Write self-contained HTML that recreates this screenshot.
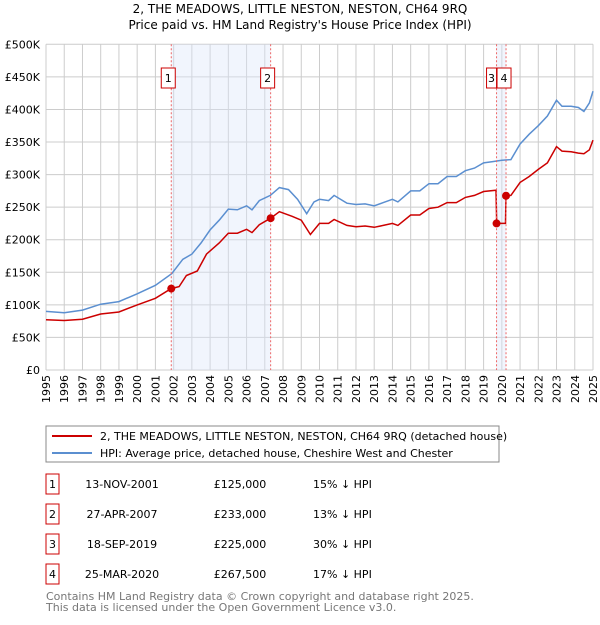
<!DOCTYPE html>
<html><head><meta charset="utf-8"><style>
body{margin:0;background:#fff;font-family:"Liberation Sans","DejaVu Sans",sans-serif;}
svg text{font-family:"DejaVu Sans","Liberation Sans",sans-serif;}
</style></head><body>
<svg width="600" height="620">
<text x="300" y="13" text-anchor="middle" font-size="12">2, THE MEADOWS, LITTLE NESTON, NESTON, CH64 9RQ</text>
<text x="300" y="29" text-anchor="middle" font-size="12">Price paid vs. HM Land Registry's House Price Index (HPI)</text>
<g id="grid"></g><g id="bands"></g><g id="lines"></g><g id="marks"></g><g id="axes"></g>
<rect x="46" y="426" width="453" height="36" fill="#fff" stroke="#888"/>
<line x1="52" y1="436" x2="92" y2="436" stroke="#cc0000" stroke-width="2"/>
<text x="100" y="440" font-size="11">2, THE MEADOWS, LITTLE NESTON, NESTON, CH64 9RQ (detached house)</text>
<line x1="52" y1="453" x2="92" y2="453" stroke="#5b8fd0" stroke-width="2"/>
<text x="100" y="457" font-size="11">HPI: Average price, detached house, Cheshire West and Chester</text>
<g id="table" font-size="11"></g>
<text x="46" y="600" font-size="11" fill="#777">Contains HM Land Registry data © Crown copyright and database right 2025.</text>
<text x="46" y="611" font-size="11" fill="#777">This data is licensed under the Open Government Licence v3.0.</text>
</svg>
<script>
const hpiYears=[1995,1996,1997,1998,1999,2000,2001,2001.9,2002.5,2003,2003.5,2004,2004.5,2005,2005.5,2006,2006.3,2006.7,2007.3,2007.8,2008.3,2008.8,2009.3,2009.7,2010,2010.5,2010.8,2011.5,2012,2012.5,2013,2013.5,2014,2014.3,2015,2015.5,2016,2016.5,2017,2017.5,2018,2018.5,2019,2019.5,2020,2020.5,2021,2021.5,2022,2022.5,2023,2023.3,2023.8,2024.2,2024.5,2024.8,2025];
const hpiValues=[90,88,92,101,105,117,130,148,170,178,195,215,230,247,246,252,246,260,268,280,277,262,240,258,262,260,268,256,254,255,252,257,262,258,275,275,286,286,297,297,306,310,318,320,322,323,347,362,375,390,414,405,405,403,397,410,428];
const propYears=[1995,1996,1997,1998,1999,2000,2001,2001.86,2002.3,2002.7,2003.3,2003.8,2004.5,2005,2005.5,2006,2006.3,2006.7,2007.32,2007.8,2008.5,2009,2009.5,2010,2010.5,2010.8,2011.5,2012,2012.5,2013,2013.5,2014,2014.3,2015,2015.5,2016,2016.5,2017,2017.5,2018,2018.5,2019,2019.68,2019.72,2020.2,2020.23,2020.5,2021,2021.5,2022,2022.5,2023,2023.3,2023.8,2024.2,2024.5,2024.8,2025];
const propValues=[77,76,78,86,89,100,110,125,128,145,152,178,195,210,210,216,211,223,233,243,236,230,208,225,225,231,222,220,221,219,222,225,222,238,238,248,250,257,257,265,268,274,276,225,225,267.5,268,288,297,308,318,343,336,335,333,332,338,353];
const saleYears=[2001.87,2007.32,2019.71,2020.23];
const saleValues=[125,233,225,267.5];
const saleLabels=["1","2","3","4"];
const saleDates=["13-NOV-2001","27-APR-2007","18-SEP-2019","25-MAR-2020"];
const salePrices=["£125,000","£233,000","£225,000","£267,500"];
const saleDiffs=["15% ↓ HPI","13% ↓ HPI","30% ↓ HPI","17% ↓ HPI"];
const yTicks=[0,50,100,150,200,250,300,350,400,450,500];
const xTicks=[1995,1996,1997,1998,1999,2000,2001,2002,2003,2004,2005,2006,2007,2008,2009,2010,2011,2012,2013,2014,2015,2016,2017,2018,2019,2020,2021,2022,2023,2024,2025];
const X0=46,X1=593,Y0=370,Y1=44.3;
const sx=y=>X0+(y-1995)/30*(X1-X0);
const sy=v=>Y0-v/500*(Y0-Y1);
const NS="http://www.w3.org/2000/svg";
function mk(p,t,a){const e=document.createElementNS(NS,t);for(const k in a)e.setAttribute(k,a[k]);p.appendChild(e);return e;}
const G=id=>document.getElementById(id);
const grid=G('grid'),axes=G('axes');
xTicks.forEach(t=>{const l=mk(grid,'line',{x1:sx(t),x2:sx(t),y1:Y1,y2:Y0,stroke:'#ccc'});

const tx=mk(axes,'text',{x:0,y:0,'font-size':11,'text-anchor':'end',transform:`translate(${sx(t)+4},${Y0+5}) rotate(-90)`});tx.textContent=t;
});
yTicks.forEach(t=>{const l=mk(grid,'line',{x1:X0,x2:X1,y1:sy(t),y2:sy(t),stroke:'#ccc'});

const tx=mk(axes,'text',{x:X0-6,y:sy(t)+4,'font-size':11,'text-anchor':'end'});tx.textContent=t===0?'£0':'£'+t+'K';
});
const bands=G('bands');
[[0,1],[2,3]].forEach(([a,b])=>{const r=mk(bands,'rect',{x:sx(saleYears[a]),y:Y1,width:sx(saleYears[b])-sx(saleYears[a]),height:Y0-Y1,fill:'#dde6fa',opacity:0.4});
});
const lines=G('lines');
function path(xs,vs){return xs.map((x,i)=>(i?'L':'M')+sx(x).toFixed(1)+','+sy(vs[i]).toFixed(1)).join('');}
const hp=mk(lines,'path',{d:path(hpiYears,hpiValues),fill:'none',stroke:'#5b8fd0','stroke-width':1.5});

const pp=mk(lines,'path',{d:path(propYears,propValues),fill:'none',stroke:'#cc0000','stroke-width':1.5});

const marks=G('marks');
saleYears.forEach((y,i)=>{
const l=mk(marks,'line',{x1:sx(y),x2:sx(y),y1:Y1,y2:Y0,stroke:'#e66','stroke-dasharray':'2,2'});

const c=mk(marks,'circle',{cx:sx(y),cy:sy(saleValues[i]),r:4,fill:'#cc0000'});

const bw=i===2?10:14;
const bx=i===3?sx(y)-9:sx(y)-10;
const r=mk(marks,'rect',{x:bx,y:68,width:bw,height:20,fill:'#fff',stroke:'#cc0000'});

const t=mk(marks,'text',{x:bx+bw/2,y:82,'font-size':11,'text-anchor':'middle'});t.textContent=saleLabels[i];
});
const tb=G('table');
saleLabels.forEach((s,i)=>{const y=483+i*30;
const r=mk(tb,'rect',{x:46,y:y-9,width:13,height:20,fill:'#fff',stroke:'#cc0000'});

[[52.5,s,'middle'],[122,saleDates[i],'middle'],[240,salePrices[i],'middle'],[313,saleDiffs[i],'start']].forEach(([x,txt,a])=>{
const t=mk(tb,'text',{x:x,y:y+5,'text-anchor':a});t.textContent=txt;
});});
</script>
</body></html>
